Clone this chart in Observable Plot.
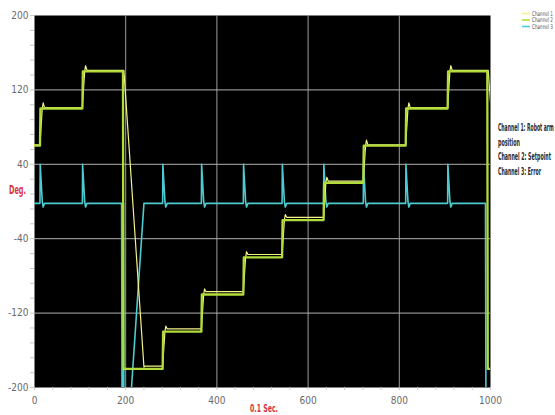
<!DOCTYPE html>
<html><head><meta charset="utf-8">
<script src="https://cdn.jsdelivr.net/npm/d3@7"></script>
<script src="https://cdn.jsdelivr.net/npm/@observablehq/plot@0.6"></script>
<style>body{margin:0;background:#fff;} #chart{width:555px;height:415px;overflow:hidden}</style>
</head><body><div id="chart"></div>
<script>
// Channel 2: setpoint (deg) vs time (0.1 s)
const spT = [0, 12, 13, 105, 106, 194, 195, 281, 282, 366, 367, 458, 459, 543, 544, 634, 635, 721, 722, 814, 815, 906, 907, 993, 994, 1000];
const spV = [60, 60, 100, 100, 140, 140, -180, -180, -140, -140, -100, -100, -60, -60, -20, -20, 20, 20, 60, 60, 100, 100, 140, 140, -180, -180];
// Channel 1: robot arm position
const posT = [0, 12, 17, 19, 22, 105, 110, 112, 115, 196, 240, 243, 281, 286, 288, 291, 366, 371, 373, 376, 458, 463, 465, 468, 543, 548, 550, 553, 634, 639, 641, 644, 721, 726, 728, 731, 814, 819, 821, 824, 906, 911, 913, 916, 995, 1000];
const posV = [61, 61, 100, 106, 101, 101, 140, 146, 141, 141, -178, -177, -177, -140, -134, -137, -137, -100, -94, -97, -97, -60, -54, -57, -57, -20, -14, -17, -17, 20, 26, 22, 22, 60, 66, 61, 61, 100, 106, 101, 101, 140, 146, 141, 141, 107];
// Channel 3: error
const errT = [0, 12, 12.5, 17, 19, 22,
  105, 105.5, 110, 112, 115,
  191, 192, 193, 194, 195, 196, 210, 240,
  281, 281.5, 286, 288, 291,
  366, 366.5, 371, 373, 376,
  458, 458.5, 463, 465, 468,
  543, 543.5, 548, 550, 553,
  634, 634.5, 639, 641, 644,
  721, 721.5, 726, 728, 731,
  814, 814.5, 819, 821, 824,
  906, 906.5, 911, 913, 916,
  989, 990, 1000];
const errV = [-2, -2, 40, 0, -6, -2,
  -2, 40, 0, -6, -2,
  -2, -220, -220, -2, -2, -220, -220, -2,
  -2, 40, 0, -6, -2,
  -2, 40, 0, -6, -2,
  -2, 40, 0, -6, -2,
  -2, 40, 0, -6, -2,
  -2, 40, 0, -6, -2,
  -2, 40, 0, -6, -2,
  -2, 40, 0, -6, -2,
  -2, 40, 0, -6, -2,
  -2, -220, -220];

const yLabels = [200, 120, 40, -40, -120, -200];
const yGrid = [120, 40, -40, -120];
const xLabels = [0, 200, 400, 600, 800, 1000];
const xGrid = [200, 400, 600, 800];
const legendNames = ["Channel 1", "Channel 2", "Channel 3"];
const noteLines = ["Channel 1: Robot arm", "position", "Channel 2: Setpoint", "Channel 3: Error"];
const colors = ["#f3f38a", "#b2dc3a", "#4ecbd0"];

const rows = (T, V) => T.map((t, i) => ({t, v: V[i]}));
const font = "'Liberation Sans Narrow','DejaVu Sans Condensed','Roboto',sans-serif";

const svg = Plot.plot({
  width: 555, height: 415,
  marginLeft: 34, marginRight: 65, marginTop: 15, marginBottom: 28,
  style: {fontFamily: font, background: "white"},
  x: {domain: [0, 1000]},
  y: {domain: [-200, 200]},
  marks: [
    Plot.frame({fill: "black"}),
    Plot.gridX(xGrid, {stroke: "#9c9c9c", strokeOpacity: 1}),
    Plot.gridY(yGrid, {stroke: "#b0b0b0", strokeOpacity: 1}),
    Plot.axisY(d3.range(-200, 201, 16), {tickSize: 4, tickPadding: 2, stroke: "#c8c8c8", fill: "#6a6a6a", fontSize: 10,
      tickFormat: d => yLabels.includes(d) ? String(d) : "", label: null}),
    Plot.axisX(d3.range(0, 1001, 40), {tickSize: 3, tickPadding: 6, stroke: "#c8c8c8", fill: "#6a6a6a", fontSize: 10,
      tickFormat: d => xLabels.includes(d) ? String(d) : "", label: null}),
    Plot.line(rows(errT, errV), {x: "t", y: "v", stroke: colors[2], strokeWidth: 1.6, clip: true}),
    Plot.line(rows(posT, posV), {x: "t", y: "v", stroke: colors[0], strokeWidth: 1.2, clip: true}),
    Plot.line(rows(spT, spV), {x: "t", y: "v", stroke: colors[1], strokeWidth: 2.3, clip: true})
  ]
});
document.getElementById("chart").appendChild(svg);

const s = d3.select(svg);
// text squeezed horizontally to a target width (condensed look)
function squeezed(x, y, w, size, fill, weight, str) {
  const t = s.append("text").attr("font-size", size).attr("fill", fill).attr("font-weight", weight)
    .attr("font-family", font).attr("text-anchor", "start").text(str);
  const natural = t.node().getComputedTextLength() || w;
  t.attr("transform", `translate(${x},${y}) scale(${w / natural},1)`);
  return t;
}
// legend
const ly = [13.5, 20, 26.5];
legendNames.forEach((name, i) => {
  s.append("line").attr("x1", 522).attr("x2", 530).attr("y1", ly[i]).attr("y2", ly[i])
    .attr("stroke", colors[i]).attr("stroke-width", 1.6);
  squeezed(532, ly[i] + 2, 21, 6.5, "#555", 400, name);
});
// annotation
const ny = [131, 145.5, 160, 174.5];
const nw = [56, 22, 53, 43];
noteLines.forEach((t, i) => squeezed(498, ny[i], nw[i], 11, "#2a2a2a", 600, t));
// axis titles
squeezed(9, 194, 17, 12, "#d8343f", 600, "Deg.");
squeezed(250, 412, 28, 11, "#d8343f", 600, "0.1 Sec.");
</script>
</body></html>
